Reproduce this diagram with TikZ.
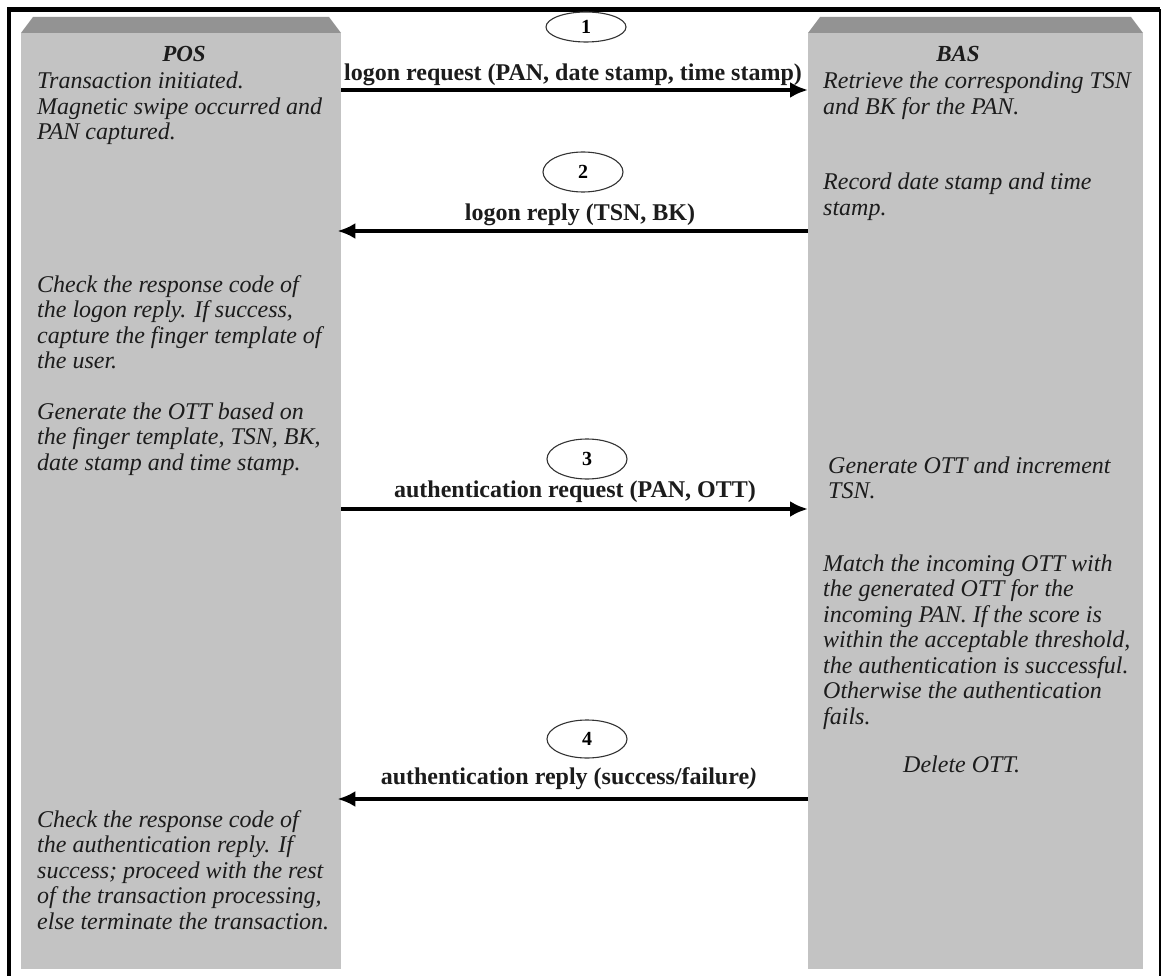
\documentclass[tikz,border=0pt]{standalone}
\usepackage{fontspec}
\setmainfont{Liberation Serif}
\usetikzlibrary{arrows.meta,shapes.geometric}

\definecolor{lanefill}{HTML}{C3C3C3}
\definecolor{lanetop}{HTML}{939393}
\definecolor{ink}{HTML}{1C1C1C}

\begin{document}
\begin{tikzpicture}[x=1pt,y=-1pt,
  lane/.style={fill=lanefill,draw=none,inner sep=0pt,anchor=north west},
  bevel/.style={fill=lanetop,draw=none},
  % multi-line notes are placed by the baseline of their last line
  note/.style={font=\fontsize{24}{25.5}\selectfont\itshape,text=ink,align=left,anchor=base west,inner sep=0pt},
  head/.style={font=\fontsize{23}{26}\selectfont\bfseries\itshape,text=ink,anchor=base,inner sep=0pt},
  msg/.style={font=\fontsize{24}{26}\selectfont\bfseries,text=ink,anchor=base,inner sep=0pt},
  num/.style={ellipse,draw=black!80,line width=1.1pt,minimum width=80pt,minimum height=40pt,inner sep=0pt,font=\fontsize{20}{22}\selectfont\bfseries},
  flow/.style={line width=4pt,-{Latex[length=18pt,width=16pt]}}
]
\useasboundingbox (0,0) rectangle (1162,976);
\fill[white] (0,0) rectangle (1162,976);

% outer frame (runs off the bottom edge)
\draw[line width=4.6pt] (9,1000) -- (9,9.5) -- (1160,9.5);
\draw[line width=2.6pt] (1160,9.5) -- (1160,1000);

% the two lanes with their bevelled tops
\node[lane,minimum width=320pt,minimum height=936pt] (pos) at (21,33) {};
\fill[bevel] (21,33) -- (33,17) -- (329,17) -- (341,33) -- cycle;
\node[lane,minimum width=335pt,minimum height=936pt] (bas) at (808,33) {};
\fill[bevel] (808,33) -- (820,17) -- (1131,17) -- (1143,33) -- cycle;

% lane headings
\node[head] (posh) at (184,62) {POS};
\node[head] (bash) at (958,62) {BAS};

% POS side
\node[note] (p1) at (37,140) {Transaction initiated.\\Magnetic swipe occurred and\\PAN captured.};
\node[note] (p2) at (37,368.5) {Check the response code of\\the logon reply. If success,\\capture the finger template of\\the user.};
\node[note] (p3) at (37,470) {Generate the OTT based on\\the finger template, TSN, BK,\\date stamp and time stamp.};
\node[note] (p4) at (37,929) {Check the response code of\\the authentication reply. If\\success; proceed with the rest\\of the transaction processing,\\else terminate the transaction.};

% BAS side
\node[note] (b1) at (823,114.5) {Retrieve the corresponding TSN\\and BK for the PAN.};
\node[note] (b2) at (823,215.5) {Record date stamp and time\\stamp.};
\node[note] (b3) at (828,498.5) {Generate OTT and increment\\TSN.};
\node[note] (b4) at (823,724) {Match the incoming OTT with\\the generated OTT for the\\incoming PAN. If the score is\\within the acceptable threshold,\\the authentication is successful.\\Otherwise the authentication\\fails.};
\node[note] (b5) at (903,772) {Delete OTT.};

% step numbers
\node[num,minimum height=30pt] (n1) at (586,27) {1};
\node[num] (n2) at (583,172) {2};
\node[num] (n3) at (587,459) {3};
\node[num,minimum height=38pt] (n4) at (587,739) {4};

% message labels
\node[msg] (m1) at (573,81) {logon request (PAN, date stamp, time stamp)};
\node[msg] (m2) at (580,221) {logon reply (TSN, BK)};
\node[msg] (m3) at (575,497) {authentication request (PAN, OTT)};
\node[msg] (m4) at (569,784) {authentication reply (success/failure\textit{)}};

% message arrows between the lanes
\coordinate (a1s) at (pos.east |- 0,90);  \coordinate (a1e) at (bas.west |- 0,90);
\coordinate (a2s) at (bas.west |- 0,231); \coordinate (a2e) at ([xshift=-4pt]pos.east |- 0,231);
\coordinate (a3s) at (pos.east |- 0,509); \coordinate (a3e) at (bas.west |- 0,509);
\coordinate (a4s) at (bas.west |- 0,799); \coordinate (a4e) at ([xshift=-4pt]pos.east |- 0,799);
\draw[flow] (a1s) -- (a1e);
\draw[flow] (a2s) -- (a2e);
\draw[flow] (a3s) -- (a3e);
\draw[flow] (a4s) -- (a4e);
\end{tikzpicture}
\end{document}
